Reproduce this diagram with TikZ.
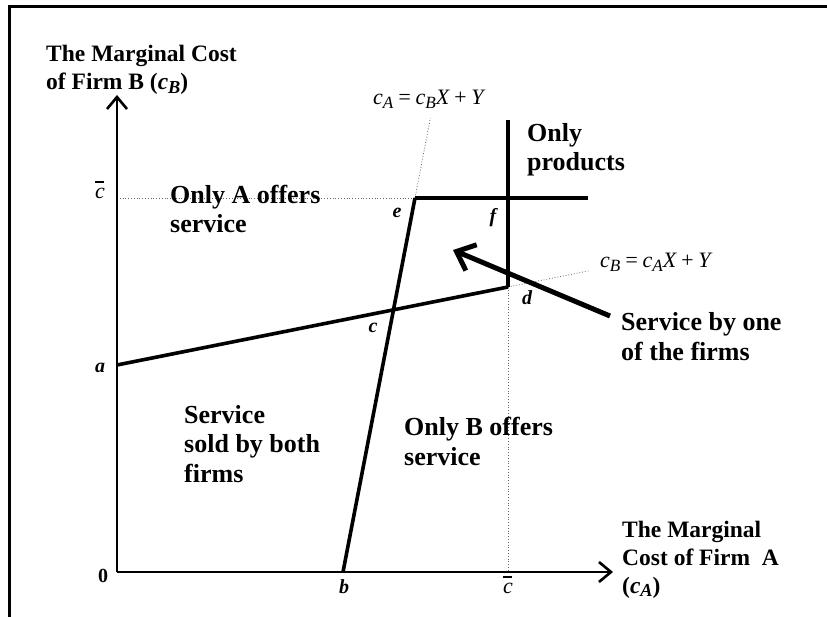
\documentclass[tikz,border=0pt]{standalone}
\usepackage{fontspec}
\setmainfont{Liberation Serif}
\usetikzlibrary{positioning,arrows.meta}
\newcommand{\csub}[1]{\textit{c}\raisebox{-0.3ex}{\scalebox{0.78}{\textit{#1}}}}
\newcommand{\cbar}{\textit{c}\llap{\rule[0.72em]{0.42em}{0.07em}\hspace{0.04em}}}
\tikzset{bound/.style={line width=3.6pt},
  axis/.style={line width=2.6pt,-{Straight Barb[length=12pt,width=20pt,line width=2.6pt]}},
  guide/.style={dotted,line width=0.8pt,black!60},
  title/.style={font=\bfseries\fontsize{23.5}{28}\selectfont,align=left,anchor=base west,inner sep=0pt},
  region/.style={font=\bfseries\fontsize{26}{29.5}\selectfont,align=left,anchor=base west,inner sep=0pt},
  pt/.style={font=\bfseries\itshape\fontsize{20}{20}\selectfont,inner sep=0pt},
  eqn/.style={font=\itshape\fontsize{22}{22}\selectfont,inner sep=0pt,anchor=base west}}

\begin{document}
\begin{tikzpicture}[x=1pt,y=-1pt]
    \useasboundingbox (0,0) rectangle (827,617);
    \draw [line width=3pt] (9,617) -- (9,7) -- (827,7);

    \coordinate (O) at (117,572);
    \coordinate (ytop) at (117,95);
    \coordinate (xend) at (613,572);
    \coordinate (a) at (117,365);
    \coordinate (b) at (343,572);
    \coordinate (d) at (508,287);
    \coordinate (e) at (415,198);
    \coordinate (f) at (508,198);
    \coordinate (ftop) at (508,120);
    \coordinate (eend) at (588,198);
    \coordinate (cbary) at (117,198);
    \coordinate (cbarx) at (508,572);
    \coordinate (etop) at (430.4,118);
    \coordinate (dend) at (590,270.6);
    \coordinate (c) at (intersection of a--d and b--e);
    \coordinate (tail) at (610,316);
    \coordinate (head) at (453,250);

    % dotted guides
    \draw [guide] (cbary) to (e);
    \draw [guide] (d) to (cbarx);
    \draw [guide] (e) to (etop);
    \draw [guide] (d) to (dend);

    % axes
    \draw [axis] (O) to (ytop);
    \draw [axis] (O) to (xend);

    % boundaries
    \draw [bound] (a) to (d);
    \draw [bound] (b) to (e);
    \draw [bound] (e) to (eend);
    \draw [bound] (ftop) to (d);
    \draw [line width=5pt,-{Straight Barb[length=16pt,width=28pt,line width=5pt]}] (tail) to (head);

    % base anchor = last line
    \node[title] (ylab) at (46,90) {The Marginal Cost\\of Firm B (\csub{B})};
    \node[title] (xlab) at (622,593) {The Marginal\\Cost of Firm\ \ A\\(\csub{A})};
    \node[region] (onlyA) at (170,233) {Only A offers\\service};
    \node[region] (prod) at (527,171) {Only\\products};
    \node[region] (one) at (621,360) {Service by one\\of the firms};
    \node[region] (both) at (184,482) {Service\\sold by both\\firms};
    \node[region] (onlyB) at (404,465) {Only B offers\\service};

    \node[eqn] (eqA) at (373,105) {\csub{A}\,=\,\csub{B}\textit{X}\,+\,\textit{Y}};
    \node[eqn] (eqB) at (600,268) {\csub{B}\,=\,\csub{A}\textit{X}\,+\,\textit{Y}};

    \node[pt] (zero) at (103,576) {\upshape 0};
    \node[pt] (la) at (100,368) {a};
    \node[pt] (lb) at (344,587) {b};
    \node[pt] (lc) at (373,328) {c};
    \node[pt] (ld) at (527,298) {d};
    \node[pt] (le) at (397,213) {e};
    \node[pt] (lf) at (493,218) {f};
    \node[eqn,anchor=center] (cy) at (100,190) {\cbar};
    \node[eqn,anchor=center] (cx) at (508,585) {\cbar};
\end{tikzpicture}
\end{document}
